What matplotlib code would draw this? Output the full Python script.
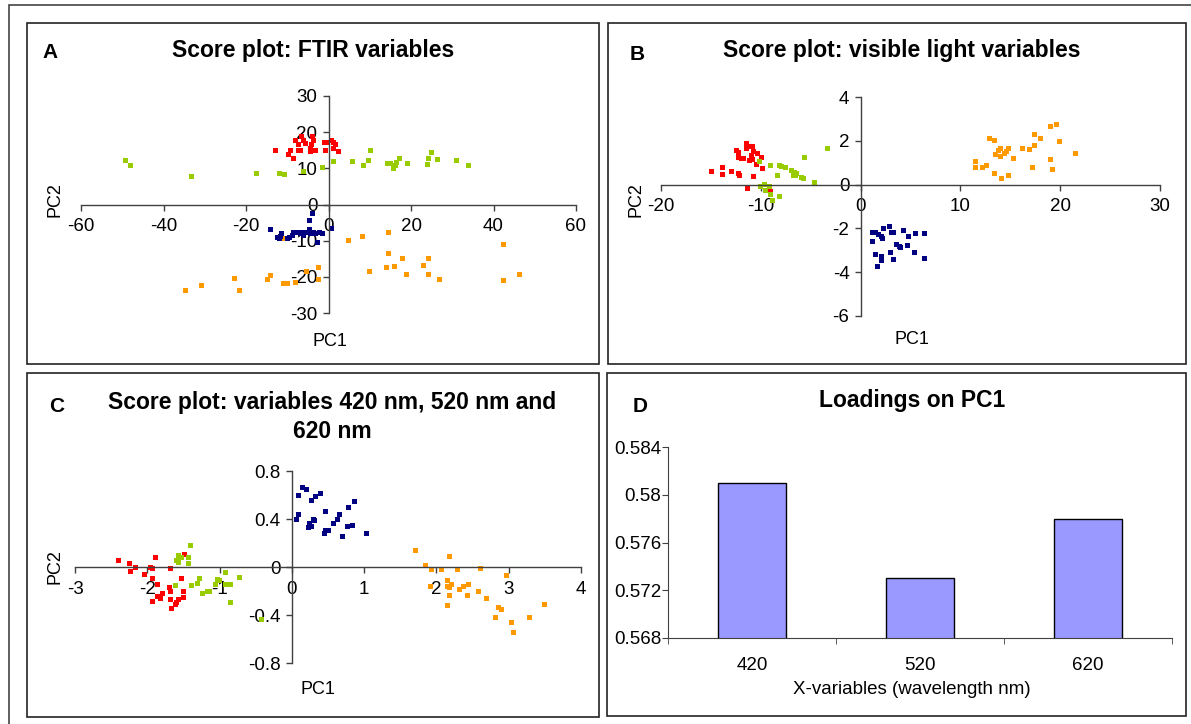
import matplotlib
matplotlib.use("Agg")
import matplotlib.pyplot as plt
from matplotlib.patches import Rectangle
from matplotlib.ticker import FuncFormatter
import numpy as np

plt.rcParams['font.family'] = ['Liberation Sans', 'DejaVu Sans']
plt.rcParams['axes.unicode_minus'] = False

W, H = 1191, 724

# ---------------- Data ----------------
# Panel A: FTIR variables
a_red_x = [-12.9, -9.8, -8.6, -9.3, -8.2, -7.5, -7.3, -6.9, -6.7, -6.1, -5.7, -4.6, -4.3, -4.0, -3.8, -3.2, -1.2, -0.8, -0.4, 0.6, 1.1, 1.5, 1.2, 2.3, -4.4]
a_red_y = [15.2, 13.9, 12.9, 15.2, 17.8, 15.2, 16.6, 15.2, 18.9, 17.8, 16.9, 14.9, 16.6, 18.9, 17.8, 15.2, 17.2, 15.2, 17.2, 17.8, 17.2, 16.6, 15.5, 14.9, 15.5]
a_green_x = [-49.3, -48.2, -33.4, -17.5, -12.0, -10.9, -6.1, -1.6, 1.2, 5.8, 8.4, 9.5, 10.1, 14.1, 14.9, 15.6, 16.2, 16.3, 17.1, 19.0, 23.9, 24.2, 24.8, 26.3, 31.0, 33.7]
a_green_y = [12.3, 10.9, 8.0, 8.7, 8.7, 8.3, 9.4, 10.3, 11.9, 11.9, 11.0, 12.3, 15.2, 11.6, 11.6, 10.0, 10.9, 11.8, 12.9, 11.6, 11.3, 12.9, 14.6, 12.6, 12.3, 11.0]
a_navy_x = [-14.1, -12.5, -12.1, -11.5, -10.1, -9.5, -8.9, -8.5, -7.7, -7.0, -6.5, -6.1, -5.3, -4.8, -4.0, -4.8, -4.4, -3.8, -3.2, -2.8, -2.2, -1.6, 0.6, -11.7]
a_navy_y = [-6.8, -9.0, -9.4, -8.0, -9.4, -9.0, -8.5, -7.6, -7.6, -8.0, -7.6, -8.5, -7.6, -4.2, -2.3, -6.8, -8.0, -7.6, -8.0, -10.3, -7.6, -8.0, -6.5, -8.7]
a_orange_x = [-34.7, -30.9, -22.9, -21.7, -14.9, -14.1, -11.1, -10.1, -8.1, -5.5, -2.6, -2.6, -10.7, 4.8, 8.1, 14.5, 9.8, 13.9, 14.5, 15.9, 17.9, 18.7, 23.0, 24.0, 24.0, 26.8, 42.2, 42.2, 46.1]
a_orange_y = [-23.7, -22.2, -20.2, -23.7, -20.5, -19.6, -21.8, -21.8, -21.4, -18.5, -17.3, -20.5, -9.2, -9.7, -8.8, -7.6, -18.3, -17.3, -13.4, -16.9, -14.7, -19.2, -16.6, -14.7, -19.2, -20.5, -10.8, -20.8, -19.2]

# Panel B: visible light variables
b_red_x = [-15.0, -13.85, -13.9, -13.0, -12.3, -12.2, -12.5, -12.3, -12.3, -12.0, -11.8, -11.5, -11.5, -11.1, -10.9, -11.0, -10.8, -10.4, -11.2, -10.9, -10.5, -10.0, -9.9, -10.8, -11.4, -9.1]
b_red_y = [0.63, 0.82, 0.48, 0.63, 0.54, 0.43, 1.58, 1.51, 1.28, 1.23, 1.23, 1.92, 1.66, 1.74, 1.77, 1.35, 1.54, 1.43, 1.12, 1.15, 0.92, 1.28, 0.78, 0.38, -0.14, -0.31]
b_green_x = [-10.2, -9.1, -10.1, -9.7, -9.6, -9.2, -9.1, -8.9, -8.4, -8.2, -8.2, -8.0, -7.6, -7.0, -6.8, -6.7, -6.5, -6.6, -6.0, -5.8, -5.7, -4.7, -3.4]
b_green_y = [1.09, 0.88, -0.08, 0.05, -0.23, -0.05, -0.45, -0.69, 0.45, -0.51, 0.88, 0.85, 0.82, 0.66, 0.43, 0.58, 0.54, 0.43, 0.35, 0.31, 1.26, 0.12, 1.65]
b_navy_x = [1.1, 1.1, 1.4, 1.7, 2.0, 2.1, 2.2, 2.8, 3.0, 3.2, 4.2, 4.7, 5.5, 6.4, 1.4, 2.0, 2.0, 1.6, 2.9, 3.2, 3.5, 3.8, 3.9, 4.6, 5.4, 6.4]
b_navy_y = [-2.15, -2.58, -2.15, -2.26, -2.34, -2.45, -1.98, -1.88, -2.15, -2.15, -2.08, -2.35, -2.23, -2.2, -3.15, -3.28, -3.46, -3.71, -3.1, -3.4, -2.72, -2.82, -2.85, -2.75, -3.06, -3.34]
b_orange_x = [11.5, 11.5, 12.2, 12.6, 12.9, 13.4, 13.4, 13.5, 13.8, 14.0, 14.0, 14.1, 14.4, 14.6, 14.8, 14.8, 15.3, 16.2, 16.9, 17.2, 17.4, 17.4, 18.0, 19.0, 19.0, 19.2, 19.6, 19.9, 21.5]
b_orange_y = [1.09, 0.82, 0.82, 0.89, 2.12, 2.05, 0.51, 1.38, 1.58, 1.69, 1.31, 0.28, 1.46, 1.54, 1.68, 0.45, 1.23, 1.65, 1.62, 0.82, 1.8, 2.31, 2.14, 2.66, 1.15, 0.72, 2.78, 1.97, 1.43]

# Panel C: variables 420, 520, 620 nm
c_red_x = [-2.41, -2.25, -2.24, -2.17, -2.04, -1.96, -1.93, -1.90, -1.94, -1.87, -1.86, -1.93, -1.83, -1.79, -1.69, -1.70, -1.69, -1.69, -1.67, -1.62, -1.60, -1.57, -1.53, -1.50, -1.50, -1.49]
c_red_y = [0.06, 0.03, -0.03, 0.0, -0.06, 0.0, -0.01, 0.08, -0.09, -0.14, -0.24, -0.28, -0.26, -0.22, -0.01, -0.17, -0.20, -0.27, -0.34, -0.31, -0.29, -0.27, -0.09, -0.20, -0.25, 0.11]
c_green_x = [-1.61, -1.60, -1.57, -1.53, -1.58, -1.44, -1.44, -1.41, -1.39, -1.31, -1.28, -1.24, -1.18, -1.14, -1.06, -1.03, -1.01, -0.93, -0.93, -0.86, -0.85, -0.73, -0.42]
c_green_y = [-0.15, 0.06, 0.10, 0.08, 0.04, 0.08, 0.03, 0.18, -0.15, -0.13, -0.09, -0.22, -0.20, -0.20, -0.14, -0.10, -0.11, -0.04, -0.14, -0.14, -0.29, -0.08, -0.43]
c_navy_x = [0.06, 0.09, 0.09, 0.14, 0.19, 0.27, 0.32, 0.39, 0.22, 0.24, 0.27, 0.29, 0.31, 0.44, 0.46, 0.46, 0.50, 0.57, 0.62, 0.65, 0.70, 0.76, 0.77, 0.83, 0.86, 1.03]
c_navy_y = [0.40, 0.44, 0.60, 0.67, 0.65, 0.56, 0.59, 0.62, 0.33, 0.37, 0.34, 0.40, 0.39, 0.28, 0.47, 0.31, 0.31, 0.37, 0.40, 0.44, 0.26, 0.34, 0.50, 0.35, 0.55, 0.28]
c_orange_x = [1.71, 1.84, 1.93, 1.91, 2.07, 2.17, 2.14, 2.14, 2.17, 2.20, 2.17, 2.14, 2.29, 2.31, 2.37, 2.43, 2.42, 2.58, 2.60, 2.68, 2.85, 2.89, 2.81, 2.96, 3.03, 3.06, 3.28, 3.49]
c_orange_y = [0.14, 0.02, -0.02, -0.16, -0.02, 0.09, -0.11, -0.16, -0.17, -0.14, -0.23, -0.32, -0.02, -0.18, -0.16, -0.14, -0.23, -0.20, -0.01, -0.26, -0.33, -0.35, -0.42, -0.07, -0.46, -0.54, -0.42, -0.31]

# Panel D: loadings on PC1
d_categories = ['420', '520', '620']
d_loadings = [0.581, 0.573, 0.578]

RED, GREEN, NAVY, ORANGE = '#FF0000', '#99CC00', '#000080', '#FF9900'
BAR = '#9999FF'
AXC = '#404040'

fig = plt.figure(figsize=(W / 100, H / 100), dpi=100)


def fx(x):
    return x / W


def fy(y):
    return 1 - y / H


def axes_px(x0, x1, y_top, y_bot):
    return fig.add_axes([fx(x0), fy(y_bot), (x1 - x0) / W, (y_bot - y_top) / H])


def frame(x0, y0, x1, y1, lw=1.2, color='#222222'):
    fig.add_artist(Rectangle((fx(x0), fy(y1)), (x1 - x0) / W, (y1 - y0) / H,
                             transform=fig.transFigure, fill=False,
                             edgecolor=color, linewidth=lw))


# Outer frame and panel frames
frame(9, 5, 1200, 740, lw=1.2, color='#444444')
frame(27, 23, 599, 364)
frame(608, 23, 1186, 364)
frame(27, 373, 599, 717)
frame(607, 373, 1186, 716)

TICK_FS = 13.5
LAB_FS = 13
TITLE_FS = 16.5


def score_axes(ax, xlim, ylim, xticks, yticks):
    ax.set_xlim(*xlim)
    ax.set_ylim(*ylim)
    ax.patch.set_alpha(0)
    for s in ['top', 'right']:
        ax.spines[s].set_visible(False)
    ax.spines['left'].set_position(('data', 0))
    ax.spines['bottom'].set_position(('data', 0))
    for s in ['left', 'bottom']:
        ax.spines[s].set_color(AXC)
        ax.spines[s].set_linewidth(1.0)
    ax.set_xticks(xticks)
    ax.set_yticks(yticks)
    fmt = FuncFormatter(lambda v, p: '%g' % round(v, 6))
    ax.xaxis.set_major_formatter(fmt)
    ax.yaxis.set_major_formatter(fmt)
    ax.tick_params(axis='both', direction='out', length=4, width=1.0,
                   color=AXC, labelsize=TICK_FS)
    ax.tick_params(axis='x', pad=6)
    ax.tick_params(axis='y', pad=4)


def scatter(ax, x, y, c):
    ax.plot(x, y, linestyle='none', marker='s', markersize=3.6,
            markerfacecolor=c, markeredgewidth=0, clip_on=False)


# ---------- Panel A ----------
axA = axes_px(81, 576, 96, 313)
score_axes(axA, (-60, 60), (-30, 30), np.arange(-60, 61, 20), np.arange(-30, 31, 10))
scatter(axA, a_green_x, a_green_y, GREEN)
scatter(axA, a_red_x, a_red_y, RED)
scatter(axA, a_orange_x, a_orange_y, ORANGE)
scatter(axA, a_navy_x, a_navy_y, NAVY)
fig.text(fx(50), fy(52), 'A', fontsize=15, fontweight='bold', ha='center', va='center')
fig.text(fx(313), fy(51), 'Score plot: FTIR variables', fontsize=TITLE_FS,
         fontweight='bold', ha='center', va='center')
fig.text(fx(55), fy(200), 'PC2', fontsize=LAB_FS, rotation=90, ha='center', va='center')
fig.text(fx(330), fy(341), 'PC1', fontsize=LAB_FS, ha='center', va='center')

# ---------- Panel B ----------
axB = axes_px(661, 1160, 97, 316)
score_axes(axB, (-20, 30), (-6, 4), np.arange(-20, 31, 10), np.arange(-6, 5, 2))
scatter(axB, b_red_x, b_red_y, RED)
scatter(axB, b_green_x, b_green_y, GREEN)
scatter(axB, b_navy_x, b_navy_y, NAVY)
scatter(axB, b_orange_x, b_orange_y, ORANGE)
fig.text(fx(637), fy(55), 'B', fontsize=15, fontweight='bold', ha='center', va='center')
fig.text(fx(902), fy(51), 'Score plot: visible light variables', fontsize=TITLE_FS,
         fontweight='bold', ha='center', va='center')
fig.text(fx(636), fy(200), 'PC2', fontsize=LAB_FS, rotation=90, ha='center', va='center')
fig.text(fx(912), fy(340), 'PC1', fontsize=LAB_FS, ha='center', va='center')

# ---------- Panel C ----------
axC = axes_px(75, 581, 471, 663)
score_axes(axC, (-3, 4), (-0.8, 0.8), np.arange(-3, 5, 1), np.array([-0.8, -0.4, 0, 0.4, 0.8]))
scatter(axC, c_red_x, c_red_y, RED)
scatter(axC, c_green_x, c_green_y, GREEN)
scatter(axC, c_navy_x, c_navy_y, NAVY)
scatter(axC, c_orange_x, c_orange_y, ORANGE)
fig.text(fx(57), fy(407), 'C', fontsize=15, fontweight='bold', ha='center', va='center')
fig.text(fx(332), fy(417), 'Score plot: variables 420 nm, 520 nm and\n620 nm', fontsize=TITLE_FS,
         fontweight='bold', ha='center', va='center', linespacing=1.3)
fig.text(fx(55), fy(567), 'PC2', fontsize=LAB_FS, rotation=90, ha='center', va='center')
fig.text(fx(318), fy(689), 'PC1', fontsize=LAB_FS, ha='center', va='center')

# ---------- Panel D ----------
axD = axes_px(668, 1172, 447, 638)
xpos = np.arange(len(d_categories))
axD.bar(xpos, d_loadings, width=0.4, color=BAR, edgecolor='black', linewidth=1.0)
axD.set_xlim(-0.5, len(d_categories) - 0.5)
axD.set_ylim(0.568, 0.584)
axD.set_yticks(np.arange(0.568, 0.5841, 0.004))
axD.yaxis.set_major_formatter(FuncFormatter(lambda v, p: '%g' % round(v, 6)))
axD.set_xticks(xpos)
axD.set_xticklabels(d_categories)
axD.set_xticks(np.arange(-0.5, len(d_categories), 1.0), minor=True)
axD.tick_params(axis='x', which='major', length=0, labelsize=TICK_FS, pad=14)
axD.tick_params(axis='x', which='minor', length=4, direction='out', color=AXC)
axD.tick_params(axis='y', length=4, direction='out', color=AXC, labelsize=TICK_FS, pad=1)
for s in ['top', 'right']:
    axD.spines[s].set_visible(False)
for s in ['left', 'bottom']:
    axD.spines[s].set_color(AXC)
axD.patch.set_alpha(0)
fig.text(fx(640), fy(407), 'D', fontsize=15, fontweight='bold', ha='center', va='center')
fig.text(fx(912), fy(401), 'Loadings on PC1', fontsize=TITLE_FS,
         fontweight='bold', ha='center', va='center')
fig.text(fx(912), fy(690), 'X-variables (wavelength nm)', fontsize=LAB_FS + 0.5,
         ha='center', va='center')

fig.savefig('out.png', dpi=100)
